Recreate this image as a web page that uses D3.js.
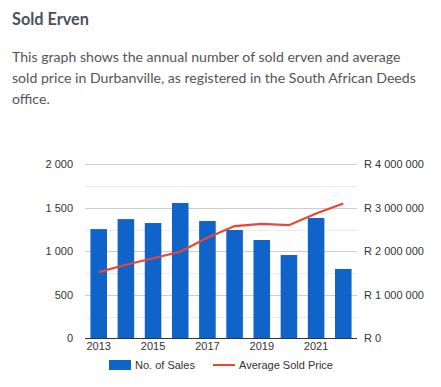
<!DOCTYPE html>
<html><head><meta charset="utf-8">
<script src="https://cdn.jsdelivr.net/npm/d3@7"></script>
<style>
body{margin:0;background:#fff;}
svg{display:block;}
</style></head>
<body>
<svg id="c" width="441" height="387"></svg>
<script>
const years = [2013,2014,2015,2016,2017,2018,2019,2020,2021,2022];
const sales = [1255,1370,1325,1555,1348,1245,1130,957,1383,797];
const avgPrice = [1520000,1690000,1840000,1990000,2310000,2580000,2630000,2600000,2870000,3100000];
const leftTicks = [0,500,1000,1500,2000];
const rightTicks = [0,1000000,2000000,3000000,4000000];
const xTickYears = [2013,2015,2017,2019,2021];
const titleText = "Sold Erven";
const descLines = ["This graph shows the annual number of sold erven and average","sold price in Durbanville, as registered in the South African Deeds","office."];
const legendLabels = ["No. of Sales","Average Sold Price"];

const svg = d3.select("#c");
const fmt = n => d3.format(",")(n).replace(/,/g, " ");
const tfont = "Lato, 'Open Sans', sans-serif";

const title = svg.append("text").attr("x",12).attr("y",25).text(titleText)
  .attr("font-family",tfont).attr("font-weight","bold")
  .attr("font-size",17).attr("fill","#4a5161");
const tw = title.node().getComputedTextLength();
title.attr("font-size", 17*77/tw);

const desc = descLines.map((t,i)=>svg.append("text").attr("x",12).attr("y",62+i*21).text(t)
   .attr("font-family",tfont).attr("font-size",15).attr("fill","#555"));
const w2 = desc[1].node().getComputedTextLength();
const fs = 15*404/w2;
desc.forEach(d=>d.attr("font-size",fs));

const L=85,R=357,T=164.3,B=338.3;
const x = d3.scaleBand().domain(years).range([L,R]).paddingInner(0.39).paddingOuter(0.2);
const yL = d3.scaleLinear().domain([0,2000]).range([B,T]);
const yR = d3.scaleLinear().domain([0,4000000]).range([B,T]);

const g = svg.append("g");
d3.range(250,2000,500).forEach(v=>{
  g.append("line").attr("x1",L).attr("x2",R).attr("y1",Math.round(yL(v))+0.5).attr("y2",Math.round(yL(v))+0.5)
   .attr("stroke","#ebebeb");
});
leftTicks.slice(1).forEach(v=>{
  g.append("line").attr("x1",L).attr("x2",R).attr("y1",Math.round(yL(v))+0.5).attr("y2",Math.round(yL(v))+0.5)
   .attr("stroke","#cccccc");
});

g.selectAll("rect.bar").data(years).join("rect").attr("class","bar")
  .attr("x",d=>x(d)).attr("width",x.bandwidth())
  .attr("y",(d,i)=>yL(sales[i])).attr("height",(d,i)=>B-yL(sales[i]))
  .attr("fill","#0f63c9");

g.append("line").attr("x1",L).attr("x2",R).attr("y1",Math.round(B)+0.5).attr("y2",Math.round(B)+0.5).attr("stroke","#333");

const line = d3.line().x((d,i)=>x(years[i])+x.bandwidth()/2).y(d=>yR(d));
g.append("path").attr("d",line(avgPrice)).attr("fill","none").attr("stroke","#ec4535").attr("stroke-width",2.2);

const font = "Arial, 'Liberation Sans', sans-serif";
const yAxisL = d3.axisLeft(yL).tickValues(leftTicks).tickSize(0).tickPadding(0).tickFormat(fmt);
const gl = svg.append("g").attr("transform","translate(73,0)").call(yAxisL);
const yAxisR = d3.axisRight(yR).tickValues(rightTicks).tickSize(0).tickPadding(0).tickFormat(d=>"R "+fmt(d));
const gr = svg.append("g").attr("transform","translate(364,0)").call(yAxisR);
const xAxis = d3.axisBottom(x).tickValues(xTickYears).tickSize(0).tickPadding(0);
const gx = svg.append("g").attr("transform","translate(0,342)").call(xAxis);
[gl,gr,gx].forEach(a=>{
  a.select(".domain").remove();
  a.selectAll("text").attr("font-family",font).attr("font-size",11).attr("fill","#333");
});
gx.selectAll("text").attr("dy","0.71em");

const lg = svg.append("g");
lg.append("rect").attr("x",109).attr("y",360).attr("width",22).attr("height",10).attr("fill","#0f63c9");
lg.append("text").attr("x",135).attr("y",369).text(legendLabels[0]).attr("font-family",font).attr("font-size",11).attr("fill","#333");
lg.append("line").attr("x1",213).attr("x2",235).attr("y1",365).attr("y2",365).attr("stroke","#ec4535").attr("stroke-width",2);
lg.append("text").attr("x",239).attr("y",369).text(legendLabels[1]).attr("font-family",font).attr("font-size",11).attr("fill","#333");
</script>
</body></html>
